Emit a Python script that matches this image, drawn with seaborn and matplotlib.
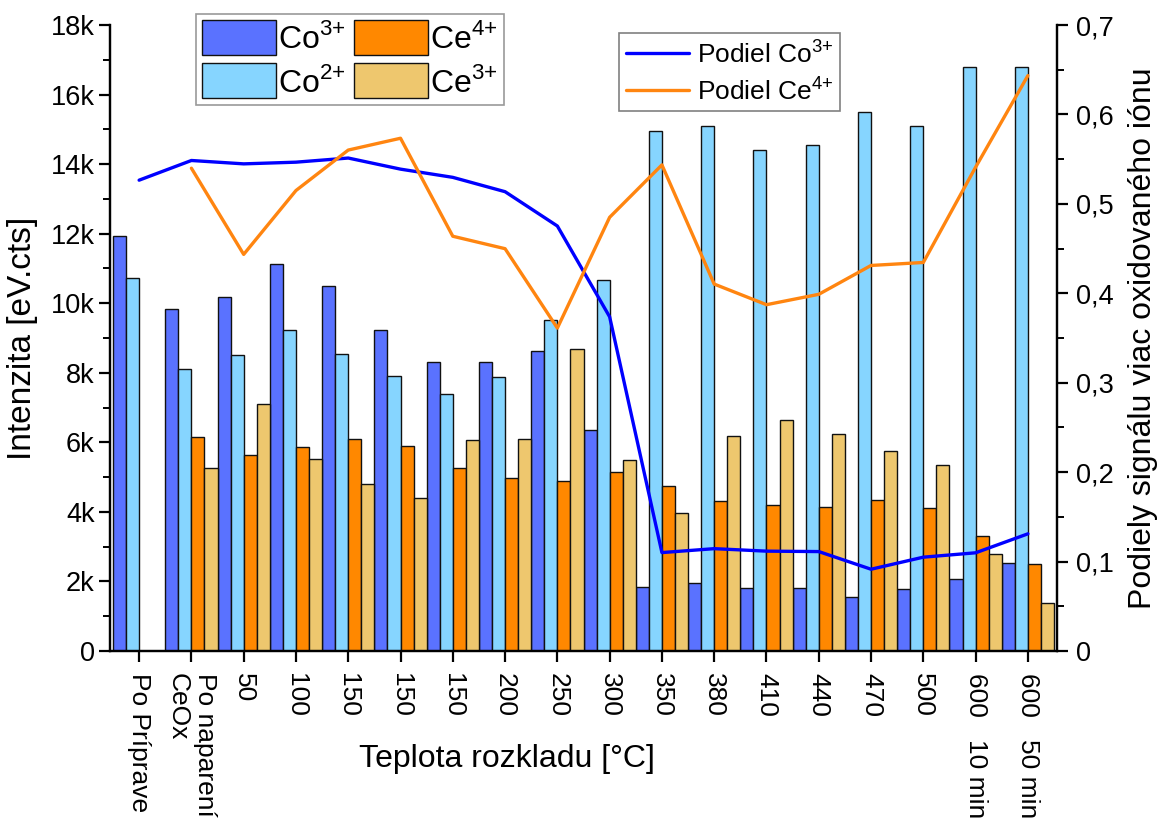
import numpy as np
import pandas as pd
import matplotlib
matplotlib.use("Agg")
import matplotlib.pyplot as plt
from matplotlib.ticker import MultipleLocator, FuncFormatter
from matplotlib.lines import Line2D
import seaborn as sns

# Categories (decomposition temperature / sample state)
categories = ["Po Príprave", "Po naparení\nCeOx", "50", "100", "150", "150", "150",
              "200", "250", "300", "350", "380", "410", "440", "470", "500",
              "600   10 min", "600   50 min"]

# XPS signal intensities [eV.cts]
co3 = [11930, 9840, 10170, 11140, 10490, 9230, 8310, 8310, 8630, 6360,
       1850, 1950, 1810, 1820, 1560, 1770, 2070, 2530]
co2 = [10730, 8100, 8500, 9240, 8540, 7900, 7380, 7870, 9530, 10660,
       14960, 15090, 14400, 14550, 15500, 15100, 16780, 16780]
ce4 = [np.nan, 6160, 5650, 5870, 6100, 5900, 5250, 4980, 4900, 5160,
       4740, 4300, 4190, 4140, 4350, 4110, 3300, 2490]
ce3 = [np.nan, 5250, 7090, 5530, 4790, 4390, 6070, 6090, 8670, 5480,
       3980, 6180, 6630, 6240, 5740, 5350, 2800, 1380]

ion_labels = ["Co$^{\\mathregular{3{+}}}$", "Co$^{\\mathregular{2{+}}}$",
              "Ce$^{\\mathregular{4{+}}}$", "Ce$^{\\mathregular{3{+}}}$"]
bar_colors = ["#5A72FF", "#86D5FF", "#FF8800", "#EEC76E"]

sns.set_style("ticks")
plt.rcParams["font.family"] = ["Liberation Sans", "DejaVu Sans"]
plt.rcParams.update({
    "axes.linewidth": 1.6,
    "text.color": "black",
    "axes.labelcolor": "black",
    "axes.edgecolor": "black",
    "xtick.color": "black",
    "ytick.color": "black",
})

pos = np.arange(len(categories))
frames = []
for lab, vals in zip(ion_labels, [co3, co2, ce4, ce3]):
    frames.append(pd.DataFrame({"pos": pos, "ion": lab, "value": vals}))
df = pd.concat(frames, ignore_index=True).dropna()

# Fraction of the more oxidised ion
co_arr, co2_arr = np.array(co3, float), np.array(co2, float)
ce4_arr, ce3_arr = np.array(ce4, float), np.array(ce3, float)
frac_co = co_arr / (co_arr + co2_arr)
frac_ce = ce4_arr / (ce4_arr + ce3_arr)

fig = plt.figure(figsize=(11.6, 8.23), dpi=100)
ax = fig.add_axes([110 / 1160, 1 - 651 / 823, 947 / 1160, 626 / 823])

sns.barplot(data=df, x="pos", y="value", hue="ion", hue_order=ion_labels,
            palette=dict(zip(ion_labels, bar_colors)), width=1.0, saturation=1,
            edgecolor="#111111", linewidth=1.0, errorbar=None, ax=ax)

ax.set_xlim(-0.557, len(categories) - 0.443)
ax.set_ylim(0, 18000)
ax.yaxis.set_major_locator(MultipleLocator(2000))
ax.yaxis.set_minor_locator(MultipleLocator(1000))
ax.yaxis.set_major_formatter(FuncFormatter(lambda v, p: "0" if v == 0 else f"{int(v / 1000)}k"))
ax.set_xticks(pos)
ax.set_xticklabels(categories, rotation=-90, ha="center", va="top",
                   multialignment="left", fontsize=19)
ax.tick_params(axis="y", which="major", length=8, width=1.6, labelsize=19.5, pad=3)
ax.tick_params(axis="y", which="minor", length=5, width=1.4)
ax.tick_params(axis="x", which="major", length=8, width=1.6, pad=8)
ax.spines["top"].set_visible(False)
ax.set_xlabel("Teplota rozkladu [°C]", fontsize=23)
ax.xaxis.set_label_coords((507 - 110) / 947, (651 - 744) / 626)
ax.set_ylabel("Intenzita [eV.cts]", fontsize=24, labelpad=9)

leg1 = ax.legend(ncol=2, loc="upper left", bbox_to_anchor=(196 / 1160, 1 - 14 / 823),
                 bbox_transform=fig.transFigure, fontsize=23, frameon=True,
                 fancybox=False, edgecolor="#808080", handlelength=2.3,
                 handleheight=1.3, handletextpad=0.08, columnspacing=0.25,
                 labelspacing=0.25, borderpad=0.2, borderaxespad=0)
leg1.get_frame().set_linewidth(1.2)

ax2 = ax.twinx()
sns.lineplot(x=pos, y=frac_co, color="#0000FF", linewidth=2.4, ax=ax2)
mask = ~np.isnan(frac_ce)
sns.lineplot(x=pos[mask], y=frac_ce[mask], color="#FF8510", linewidth=2.4, ax=ax2)
ax2.set_ylim(0, 0.7)
ax2.yaxis.set_major_locator(MultipleLocator(0.1))
ax2.yaxis.set_minor_locator(MultipleLocator(0.05))
ax2.yaxis.set_major_formatter(FuncFormatter(
    lambda v, p: "0" if abs(v) < 1e-9 else f"{v:.1f}".replace(".", ",")))
ax2.tick_params(axis="y", which="major", length=8, width=1.6, labelsize=19.5, pad=6)
ax2.tick_params(axis="y", which="minor", length=5, width=1.4)
ax2.spines["top"].set_visible(False)
ax2.set_ylabel("Podiely signálu viac oxidovaného iónu", fontsize=23, labelpad=10)

handles = [Line2D([], [], color="#0000FF", lw=2.4), Line2D([], [], color="#FF8510", lw=2.4)]
leg2 = ax2.legend(handles, ["Podiel Co$^{\\mathregular{3{+}}}$", "Podiel Ce$^{\\mathregular{4{+}}}$"],
                  loc="upper left", bbox_to_anchor=(619 / 1160, 1 - 33 / 823),
                  bbox_transform=fig.transFigure, fontsize=19, frameon=True,
                  fancybox=False, edgecolor="#606060", handlelength=2.4,
                  handletextpad=0.3, labelspacing=0.35, borderpad=0.25, borderaxespad=0)
leg2.get_frame().set_linewidth(1.2)

fig.savefig("out.png", dpi=100)
